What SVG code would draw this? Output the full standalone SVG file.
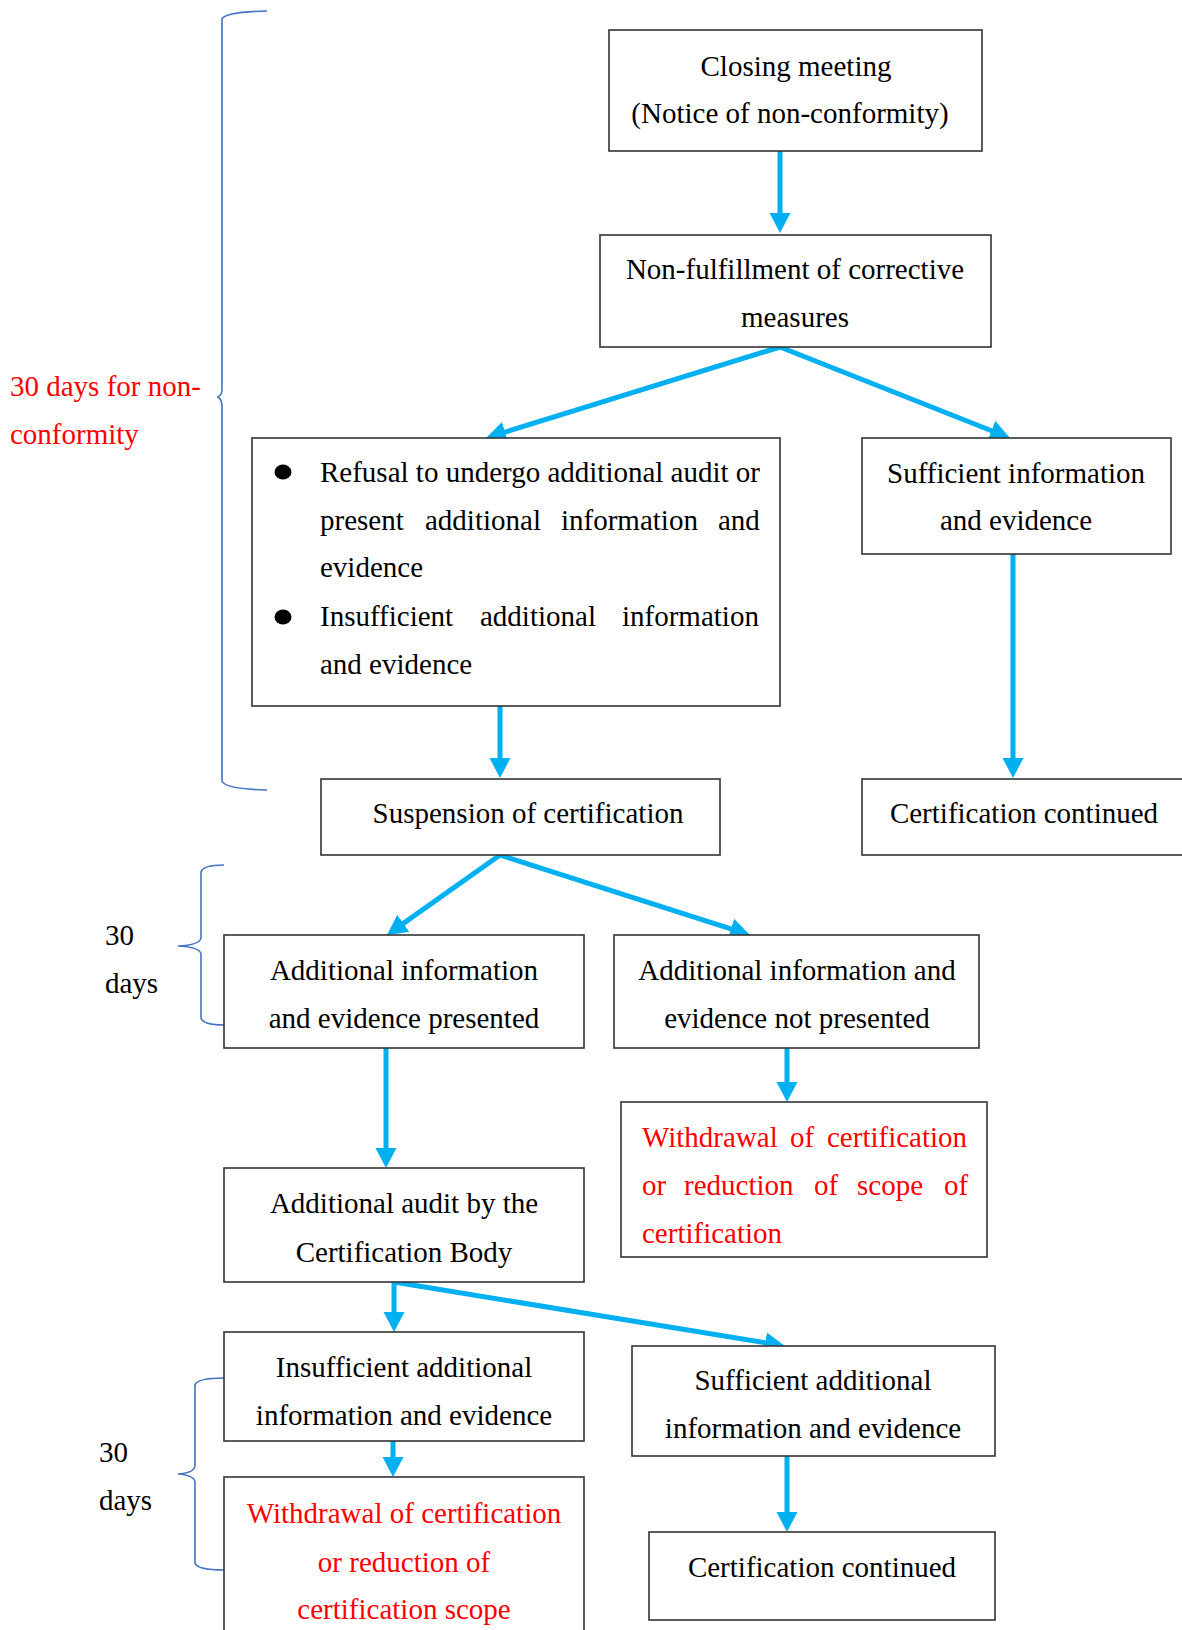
<svg xmlns="http://www.w3.org/2000/svg" width="1182" height="1630" viewBox="0 0 1182 1630">
<style>
  .box { fill: #ffffff; stroke: #333333; stroke-width: 1.6; }
  .t { font-family: "Liberation Serif", "Times New Roman", serif; font-size: 29px; fill: #000000; }
  .c { text-anchor: middle; }
  .red { fill: #ff0000; }
  .con { stroke: #00b0f0; stroke-width: 5; fill: none; marker-end: url(#ah); }
  .brace { stroke: #4472c4; stroke-width: 1.6; fill: none; }
</style>
<defs>
  <marker id="ah" markerUnits="userSpaceOnUse" markerWidth="24" markerHeight="24" refX="9" refY="10.5" orient="auto">
    <path d="M0,0 L20,10.5 L0,21 z" fill="#00b0f0"/>
  </marker>
</defs>
<rect width="1182" height="1630" fill="#ffffff"/>

<g id="annotations">
  <path class="brace" d="M267,11 Q225,12 222,19 L222,389 Q222,395 218,397 Q222,400 222,406 L222,781 Q225,789 267,790"/>
  <text class="t red" x="10" y="396">30 days for non-</text>
  <text class="t red" x="10" y="444">conformity</text>
  <path class="brace" d="M224,865 Q203,865 201,872 L201,938 Q200,945 178,946 Q200,947 201,954 L201,1018 Q203,1025 224,1025"/>
  <text class="t" x="105" y="945">30</text>
  <text class="t" x="105" y="993">days</text>
  <path class="brace" d="M224,1378 Q197,1378 195,1385 L195,1466 Q194,1473 178,1474 Q194,1475 195,1482 L195,1563 Q197,1570 224,1570"/>
  <text class="t" x="99" y="1462">30</text>
  <text class="t" x="99" y="1510">days</text>
</g>

<g id="connectors">
  <line class="con" x1="780" y1="142" x2="780" y2="222"/>
  <line class="con" x1="780" y1="347" x2="496.5" y2="434.7"/>
  <line class="con" x1="780" y1="347" x2="999.8" y2="434"/>
  <line class="con" x1="1013" y1="554" x2="1013" y2="767"/>
  <line class="con" x1="500" y1="706" x2="500" y2="767"/>
  <line class="con" x1="500" y1="855" x2="396" y2="928.6"/>
  <line class="con" x1="500" y1="855" x2="739.5" y2="931.6"/>
  <line class="con" x1="787" y1="1048" x2="787" y2="1091"/>
  <line class="con" x1="386" y1="1048" x2="386" y2="1157"/>
  <line class="con" x1="394" y1="1282" x2="394" y2="1321"/>
  <line class="con" x1="394" y1="1282" x2="774.1" y2="1344.2"/>
  <line class="con" x1="393" y1="1441" x2="393" y2="1466"/>
  <line class="con" x1="787" y1="1456" x2="787" y2="1521"/>
</g>

<g id="closing-meeting">
  <rect class="box" x="609" y="30" width="373" height="121"/>
  <text class="t c" x="796" y="76">Closing meeting</text>
  <text class="t c" x="790" y="123">(Notice of non-conformity)</text>
</g>

<g id="non-fulfillment">
  <rect class="box" x="600" y="235" width="391" height="112"/>
  <text class="t c" x="795" y="279">Non-fulfillment of corrective</text>
  <text class="t c" x="795" y="327">measures</text>
</g>

<g id="refusal">
  <rect class="box" x="252" y="438" width="528" height="268"/>
  <ellipse cx="283" cy="472" rx="8.5" ry="7.5" fill="#000000"/>
  <ellipse cx="283" cy="617" rx="8.5" ry="7.5" fill="#000000"/>
  <text class="t" x="320" y="482">Refusal to undergo additional audit or</text>
  <text class="t" y="530"><tspan x="320">present</tspan><tspan x="425">additional</tspan><tspan x="561">information</tspan><tspan x="718">and</tspan></text>
  <text class="t" x="320" y="577">evidence</text>
  <text class="t" y="626"><tspan x="320">Insufficient</tspan><tspan x="480">additional</tspan><tspan x="622">information</tspan></text>
  <text class="t" x="320" y="674">and evidence</text>
</g>

<g id="sufficient-info">
  <rect class="box" x="862" y="438" width="309" height="116"/>
  <text class="t c" x="1016" y="483">Sufficient information</text>
  <text class="t c" x="1016" y="530">and evidence</text>
</g>

<g id="suspension">
  <rect class="box" x="321" y="779" width="399" height="76"/>
  <text class="t c" x="528" y="823">Suspension of certification</text>
</g>

<g id="certification-continued-1">
  <rect class="box" x="862" y="779" width="340" height="76"/>
  <text class="t c" x="1024" y="823">Certification continued</text>
</g>

<g id="additional-presented">
  <rect class="box" x="224" y="935" width="360" height="113"/>
  <text class="t c" x="404" y="980">Additional information</text>
  <text class="t c" x="404" y="1028">and evidence presented</text>
</g>

<g id="additional-not-presented">
  <rect class="box" x="614" y="935" width="365" height="113"/>
  <text class="t c" x="797" y="980">Additional information and</text>
  <text class="t c" x="797" y="1028">evidence not presented</text>
</g>

<g id="withdrawal-1">
  <rect class="box" x="621" y="1102" width="366" height="155"/>
  <text class="t red" y="1147"><tspan x="642">Withdrawal</tspan><tspan x="790">of</tspan><tspan x="827">certification</tspan></text>
  <text class="t red" y="1195"><tspan x="642">or</tspan><tspan x="684">reduction</tspan><tspan x="814">of</tspan><tspan x="857">scope</tspan><tspan x="944">of</tspan></text>
  <text class="t red" x="642" y="1243">certification</text>
</g>

<g id="additional-audit">
  <rect class="box" x="224" y="1168" width="360" height="114"/>
  <text class="t c" x="404" y="1213">Additional audit by the</text>
  <text class="t c" x="404" y="1262">Certification Body</text>
</g>

<g id="insufficient-additional">
  <rect class="box" x="224" y="1332" width="360" height="109"/>
  <text class="t c" x="404" y="1377">Insufficient additional</text>
  <text class="t c" x="404" y="1425">information and evidence</text>
</g>

<g id="withdrawal-2">
  <rect class="box" x="224" y="1477" width="360" height="200"/>
  <text class="t c red" x="404" y="1523">Withdrawal of certification</text>
  <text class="t c red" x="404" y="1572">or reduction of</text>
  <text class="t c red" x="404" y="1619">certification scope</text>
</g>

<g id="sufficient-additional">
  <rect class="box" x="632" y="1346" width="363" height="110"/>
  <text class="t c" x="813" y="1390">Sufficient additional</text>
  <text class="t c" x="813" y="1438">information and evidence</text>
</g>

<g id="certification-continued-2">
  <rect class="box" x="649" y="1532" width="346" height="88"/>
  <text class="t c" x="822" y="1577">Certification continued</text>
</g>
</svg>
